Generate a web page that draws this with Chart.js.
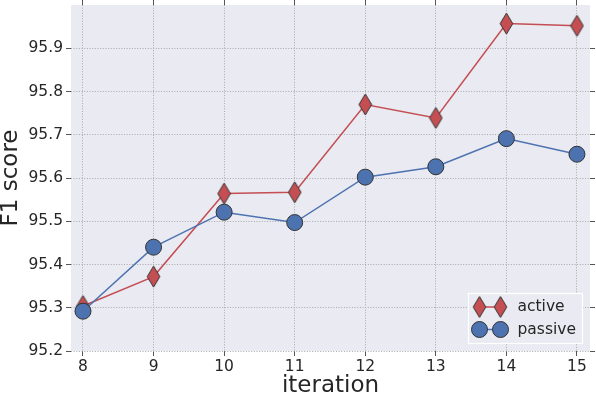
<!DOCTYPE html>
<html>
<head>
<meta charset="utf-8">
<script src="https://cdn.jsdelivr.net/npm/chart.js@4/dist/chart.umd.min.js"></script>
<style>
html,body{margin:0;padding:0;background:#fff;}
#wrap{width:596px;height:398px;}
</style>
</head>
<body>
<div id="wrap"><canvas id="chartF1" width="596" height="398"></canvas></div>
<script>
//=====================================================
// DATOS
//=====================================================

const iterations=[8,9,10,11,12,13,14,15];
const activeF1=[95.304,95.372,95.564,95.567,95.770,95.739,95.957,95.952];
const passiveF1=[95.292,95.440,95.521,95.497,95.602,95.626,95.691,95.655];
const seriesNames=["active","passive"];
const xTicks=[8,9,10,11,12,13,14,15];
const yTicks=[95.2,95.3,95.4,95.5,95.6,95.7,95.8,95.9];

//=====================================================
// ESTILO
//=====================================================

const rojo="#C44E52";
const azul="#4C72B0";
const fondo="#EAEAF2";
const borde="#333333";
const texto="#262626";

Chart.defaults.font.family="'DejaVu Sans'";
Chart.defaults.color=texto;

function diamante(color){
 const c=document.createElement("canvas");
 c.width=15;c.height=23;
 const g=c.getContext("2d");
 g.beginPath();
 g.moveTo(7.5,1);g.lineTo(13.8,11.5);g.lineTo(7.5,22);g.lineTo(1.2,11.5);
 g.closePath();
 g.fillStyle=color;g.fill();
 g.strokeStyle=borde;g.lineWidth=1;g.stroke();
 return c;
}

const puntos=(ys)=>iterations.map((x,i)=>({x:x,y:ys[i]}));
const fijarTicks=(lista)=>(s)=>{s.ticks=lista.map(v=>({value:v}));};
const tamano=(w,h)=>(s)=>{
 if(w!==null)s.width=w;
 if(h!==null)s.height=h;
 s.paddingLeft=0;s.paddingRight=0;s.paddingTop=0;s.paddingBottom=0;
};

//=====================================================
// PLUGINS
//=====================================================

const fondoPlot={
 id:"fondoPlot",
 beforeDraw(chart){
  const a=chart.chartArea,ctx=chart.ctx;
  ctx.save();
  ctx.fillStyle=fondo;
  ctx.fillRect(a.left,a.top,a.right-a.left,a.bottom-a.top);
  ctx.restore();
 }
};

const leyenda={
 id:"leyenda",
 afterDraw(chart){
  const ctx=chart.ctx;
  ctx.save();
  ctx.fillStyle=fondo;
  ctx.fillRect(468,293,115,51);
  ctx.strokeStyle="#ffffff";ctx.lineWidth=1.2;
  ctx.strokeRect(468.5,293.5,114,50);
  const filas=[307,329.5];
  chart.data.datasets.forEach((ds,i)=>{
   const y=filas[i];
   ctx.strokeStyle=ds.borderColor;ctx.lineWidth=1.5;
   ctx.beginPath();ctx.moveTo(479.5,y);ctx.lineTo(500.5,y);ctx.stroke();
   [479.5,500.5].forEach(x=>{
    if(typeof ds.pointStyle==="object"){
     ctx.drawImage(ds.pointStyle,x-ds.pointStyle.width/2,y-ds.pointStyle.height/2);
    }else{
     ctx.beginPath();ctx.arc(x,y,ds.pointRadius,0,Math.PI*2);
     ctx.fillStyle=ds.pointBackgroundColor;ctx.fill();
     ctx.strokeStyle=borde;ctx.lineWidth=1;ctx.stroke();
    }
   });
   ctx.fillStyle=texto;
   ctx.font="15.5px 'DejaVu Sans'";
   ctx.textBaseline="middle";ctx.textAlign="left";
   ctx.fillText(ds.label,517.5,y);
  });
  ctx.restore();
 }
};

//=====================================================
// GRÁFICO
//=====================================================

const grid={color:"#a8a8a8",lineWidth:1,tickLength:5,tickColor:"#555555",tickWidth:1,tickBorderDash:[]};
const bordeEje={display:false,dash:[1,1.65]};

new Chart(document.getElementById("chartF1"),{

type:"line",

data:{
 datasets:[
  {
   label:seriesNames[0],
   data:puntos(activeF1),
   borderColor:rojo,
   backgroundColor:rojo,
   borderWidth:1.5,
   pointStyle:diamante(rojo),
   pointRadius:11,
   order:2
  },
  {
   label:seriesNames[1],
   data:puntos(passiveF1),
   borderColor:azul,
   backgroundColor:azul,
   pointBackgroundColor:azul,
   pointBorderColor:borde,
   pointBorderWidth:1,
   borderWidth:1.5,
   pointStyle:"circle",
   pointRadius:8,
   order:1
  }
 ]
},

options:{
 responsive:false,
 animation:false,
 layout:{padding:0,autoPadding:false},
 plugins:{legend:{display:false},tooltip:{enabled:false}},
 scales:{
  x:{
   type:"linear",position:"bottom",min:7.83,max:15.185,
   afterBuildTicks:fijarTicks(xTicks),
   afterFit:tamano(null,47),
   grid:grid,border:bordeEje,
   ticks:{font:{size:15.5},padding:2,maxRotation:0,callback:(v)=>String(v)},
   title:{display:true,text:"iteration",font:{size:23,lineHeight:1},padding:0}
  },
  y:{
   type:"linear",position:"left",min:95.2,max:96.0,
   afterBuildTicks:fijarTicks(yTicks),
   afterFit:tamano(71,null),
   grid:grid,border:bordeEje,
   ticks:{font:{size:15.5},padding:3,callback:(v)=>v.toFixed(1)},
   title:{display:true,text:"F1 score",font:{size:23,lineHeight:1},padding:0}
  },
  x2:{
   type:"linear",position:"top",min:7.83,max:15.185,
   afterBuildTicks:fijarTicks(xTicks),
   afterFit:tamano(null,5),
   grid:Object.assign({},grid,{drawOnChartArea:false}),border:bordeEje,
   ticks:{display:false}
  },
  y2:{
   type:"linear",position:"right",min:95.2,max:96.0,
   afterBuildTicks:fijarTicks(yTicks),
   afterFit:tamano(6,null),
   grid:Object.assign({},grid,{drawOnChartArea:false}),border:bordeEje,
   ticks:{display:false}
  }
 }
},

plugins:[fondoPlot,leyenda]

});
</script>
</body>
</html>
